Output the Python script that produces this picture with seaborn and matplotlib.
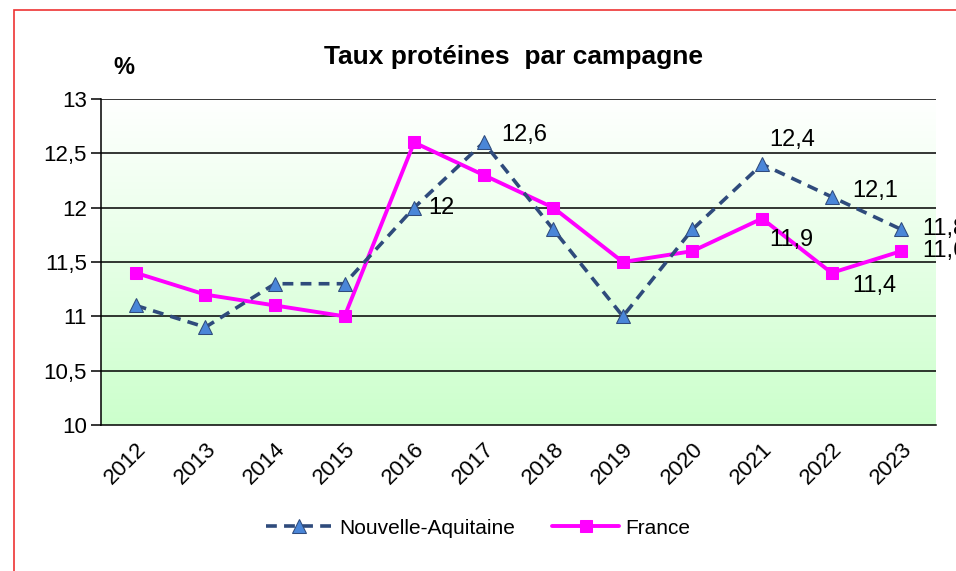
import numpy as np
import pandas as pd
import matplotlib
matplotlib.use("Agg")
import matplotlib.pyplot as plt
import seaborn as sns
from matplotlib.patches import Rectangle

years = ["2012", "2013", "2014", "2015", "2016", "2017",
         "2018", "2019", "2020", "2021", "2022", "2023"]
nouvelle_aquitaine = [11.1, 10.9, 11.3, 11.3, 12.0, 12.6, 11.8, 11.0, 11.8, 12.4, 12.1, 11.8]
france = [11.4, 11.2, 11.1, 11.0, 12.6, 12.3, 12.0, 11.5, 11.6, 11.9, 11.4, 11.6]
y_ticks = [10, 10.5, 11, 11.5, 12, 12.5, 13]

sns.set_style("white")
plt.rcParams['font.family'] = ['Liberation Sans', 'DejaVu Sans']
plt.rcParams['text.color'] = 'black'
plt.rcParams['xtick.color'] = 'black'
plt.rcParams['ytick.color'] = 'black'

fig = plt.figure(figsize=(9.56, 5.71), dpi=100)
ax = fig.add_axes([101/956, (571-425)/571, 835/956, (425-99)/571])

x = np.arange(len(years))
df_na = pd.DataFrame({"x": x, "y": nouvelle_aquitaine})
df_fr = pd.DataFrame({"x": x, "y": france})

# fond en degrade blanc -> vert clair
grad = np.linspace(0, 1, 256).reshape(-1, 1)
cmap = matplotlib.colors.LinearSegmentedColormap.from_list("g", ["#ccffcc", "#ffffff"])
ax.imshow(grad, aspect="auto", cmap=cmap, origin="lower",
          extent=[-0.5, 11.5, 10, 13], zorder=0)

for t in y_ticks[1:]:
    ax.axhline(t, color="black", lw=1.1, zorder=1)

sns.lineplot(data=df_fr, x="x", y="y", ax=ax, color="#ff00ff", lw=2.8,
             marker="s", markersize=8, markeredgecolor="#ff00ff",
             label="France", zorder=3)
sns.lineplot(data=df_na, x="x", y="y", ax=ax, color="#2f4b7c", lw=2.6,
             linestyle=(0, (3, 2)), marker="^", markersize=10,
             markerfacecolor="#4a86d8", markeredgecolor="#2f4b7c",
             label="Nouvelle-Aquitaine", zorder=4)

def fmt(v):
    return f"{v:.1f}".replace(".", ",").replace(",0", "")

fs = 17
for i, dx, dy in [(4, 0.2, 0.0), (5, 0.25, 0.07), (9, 0.1, 0.22), (10, 0.3, 0.05), (11, 0.3, 0.0)]:
    ax.text(x[i] + dx, nouvelle_aquitaine[i] + dy, fmt(nouvelle_aquitaine[i]),
            fontsize=fs, va="center", ha="left", zorder=5, clip_on=False)
for i, dx, dy in [(9, 0.1, -0.2), (10, 0.3, -0.12), (11, 0.3, 0.0)]:
    ax.text(x[i] + dx, france[i] + dy, fmt(france[i]),
            fontsize=fs, va="center", ha="left", zorder=5, clip_on=False)

ax.set_xlim(-0.5, 11.5)
ax.set_ylim(10, 13)
ax.set_yticks(y_ticks)
ax.set_yticklabels([fmt(v) for v in y_ticks], fontsize=16)
ax.set_xticks(x)
ax.set_xticklabels(years, rotation=45, fontsize=16, ha="right", rotation_mode="anchor")
ax.set_xticks(np.arange(-0.5, 12, 1), minor=True)
ax.tick_params(axis="x", which="major", length=0, pad=10)
ax.tick_params(axis="x", which="minor", length=7, width=1.1, color="black", direction="out")
ax.tick_params(axis="y", length=7, width=1.1, color="black", direction="out", left=True, pad=3)
ax.set_xlabel("")
ax.set_ylabel("")

for s in ["top", "right"]:
    ax.spines[s].set_visible(False)
for s in ["left", "bottom"]:
    ax.spines[s].set_color("black")
    ax.spines[s].set_linewidth(1.1)

fig.text(513/956, 1 - 57/571, "Taux protéines  par campagne", fontsize=19,
         fontweight="bold", ha="center", va="center")
fig.text(124/956, 1 - 68/571, "%", fontsize=17, fontweight="bold", ha="center", va="center")

handles, labels = ax.get_legend_handles_labels()
order = [labels.index("Nouvelle-Aquitaine"), labels.index("France")]
ax.legend([handles[i] for i in order], [labels[i] for i in order],
          loc="center", bbox_to_anchor=(478/956, 1 - 528/571),
          bbox_transform=fig.transFigure, ncol=2, frameon=False,
          fontsize=15, handlelength=3.2, columnspacing=1.8, handletextpad=0.3)

fig.patches.append(Rectangle((14/956, -0.1), 1.2, 1 - 10/571 + 0.1,
                             transform=fig.transFigure, fill=False,
                             edgecolor="#ee3333", lw=1.2))

fig.savefig("out.png", dpi=100)
